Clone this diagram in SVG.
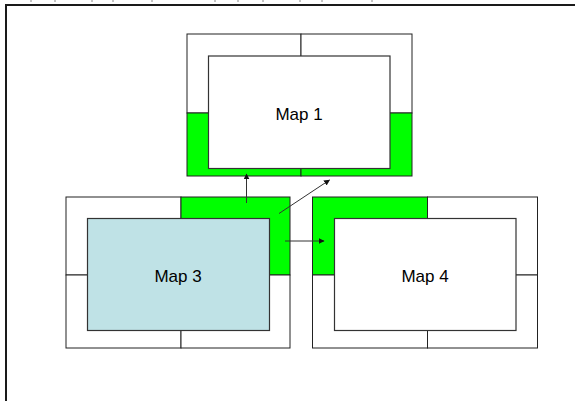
<svg xmlns="http://www.w3.org/2000/svg" width="575" height="401" viewBox="0 0 575 401">
  <defs>
    <style>
      .frame { fill: none; stroke: #1a1a1a; stroke-width: 2; }
      .tick { stroke: #888; stroke-width: 1; }
      .cell { fill: #ffffff; stroke: #222; stroke-width: 1; }
      .hot { fill: #00ff00; stroke: #222; stroke-width: 1; }
      .map { fill: #ffffff; stroke: #333; stroke-width: 1.2; }
      .map.sel { fill: #bfe2e6; }
      .lbl { font-family: "Liberation Sans", Arial, sans-serif; font-size: 17px; fill: #000; text-anchor: middle; }
      .link { stroke: #333; stroke-width: 1; fill: none; marker-end: url(#head); }
    </style>
    <marker id="head" viewBox="0 0 10 10" refX="9" refY="5" markerWidth="6" markerHeight="6" markerUnits="userSpaceOnUse" orient="auto">
      <path d="M0,0 L10,5 L0,10 z" fill="#111"/>
    </marker>
  </defs>

  <rect width="575" height="401" fill="#ffffff"/>

  <!-- page frame -->
  <path class="frame" d="M6,401 V5 H575"/>
  <g class="tick">
    <line x1="31" y1="0" x2="31" y2="2"/>
    <line x1="55" y1="0" x2="55" y2="2"/>
    <line x1="92" y1="0" x2="92" y2="2"/>
    <line x1="113" y1="0" x2="113" y2="2"/>
    <line x1="152" y1="0" x2="152" y2="2"/>
    <line x1="215" y1="0" x2="215" y2="2"/>
    <line x1="238" y1="0" x2="238" y2="2"/>
    <line x1="263" y1="0" x2="263" y2="2"/>
    <line x1="300" y1="0" x2="300" y2="2"/>
    <line x1="322" y1="0" x2="322" y2="2"/>
    <line x1="372" y1="0" x2="372" y2="2"/>
  </g>

  <!-- Map 1: bottom quadrants highlighted -->
  <g id="map1">
    <rect class="cell" x="187" y="34" width="114" height="79"/>
    <rect class="cell" x="301" y="34" width="111" height="79"/>
    <rect class="hot" x="187" y="113" width="114" height="63"/>
    <rect class="hot" x="301" y="113" width="111" height="63"/>
    <rect class="map" x="208.5" y="56" width="181.5" height="112.5"/>
    <text class="lbl" x="299" y="120">Map 1</text>
  </g>

  <!-- Map 3: top-right quadrant highlighted -->
  <g id="map3">
    <rect class="cell" x="66" y="197" width="115" height="78"/>
    <rect class="hot" x="181" y="197" width="109" height="78"/>
    <rect class="cell" x="66" y="275" width="115" height="73"/>
    <rect class="cell" x="181" y="275" width="109" height="73"/>
    <rect class="map sel" x="87.5" y="218.5" width="182" height="112"/>
    <text class="lbl" x="178" y="282">Map 3</text>
  </g>

  <!-- Map 4: top-left quadrant highlighted -->
  <g id="map4">
    <rect class="hot" x="312.5" y="197" width="115" height="78"/>
    <rect class="cell" x="427.5" y="197" width="110" height="78"/>
    <rect class="cell" x="312.5" y="275" width="115" height="73"/>
    <rect class="cell" x="427.5" y="275" width="110" height="73"/>
    <rect class="map" x="334.5" y="218.5" width="181.5" height="112"/>
    <text class="lbl" x="425" y="282">Map 4</text>
  </g>

  <!-- connectors -->
  <g id="links">
    <line class="link" x1="246.5" y1="203" x2="246.5" y2="174"/>
    <line class="link" x1="279" y1="213.5" x2="329.5" y2="180"/>
    <line class="link" x1="285" y1="241" x2="324" y2="241"/>
  </g>
</svg>
